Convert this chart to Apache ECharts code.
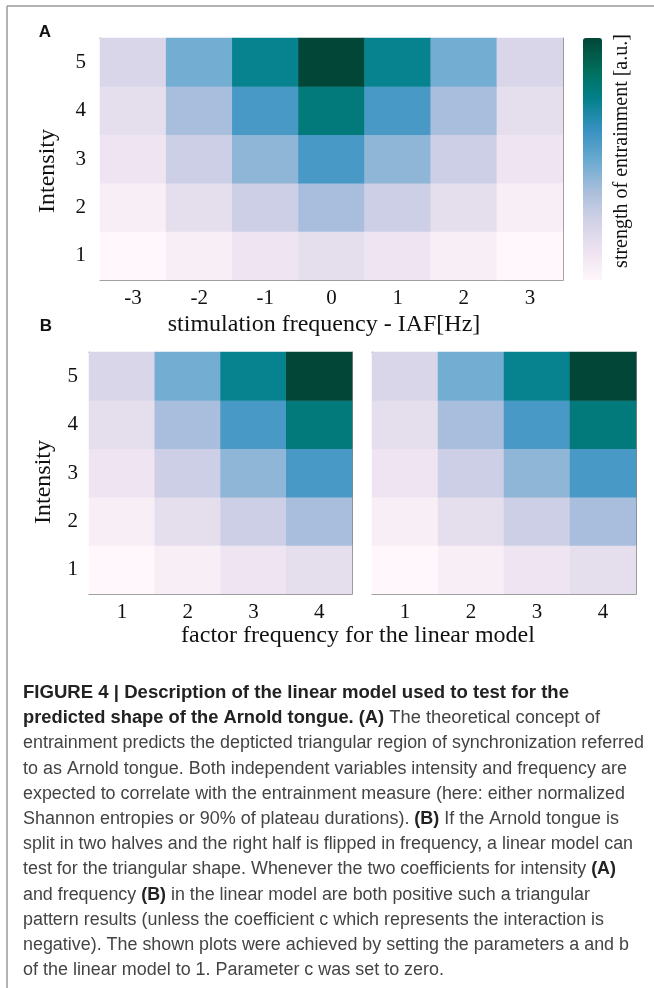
<!DOCTYPE html>
<html>
<head>
<meta charset="utf-8">
<script src="https://cdn.jsdelivr.net/npm/echarts@6/dist/echarts.min.js"></script>
<style>
html,body{margin:0;padding:0;background:#fff;}
#main{width:654px;height:988px;}
</style>
</head>
<body>
<div id="main"></div>
<script>
// ---- data ----
const freqLabels = ['-3', '-2', '-1', '0', '1', '2', '3'];
const intensityLabels = ['1', '2', '3', '4', '5'];
const factorLabels = ['1', '2', '3', '4'];
// rows: intensity 1..5 ; columns: stimulation frequency -3..3
const strengthA = [
  [1, 2, 3, 4, 3, 2, 1],
  [2, 4, 6, 8, 6, 4, 2],
  [3, 6, 9, 12, 9, 6, 3],
  [4, 8, 12, 16, 12, 8, 4],
  [5, 10, 15, 20, 15, 10, 5]
];
// rows: intensity 1..5 ; columns: factor frequency 1..4
const strengthBLeft = [
  [1, 2, 3, 4],
  [2, 4, 6, 8],
  [3, 6, 9, 12],
  [4, 8, 12, 16],
  [5, 10, 15, 20]
];
const strengthBRight = [
  [1, 2, 3, 4],
  [2, 4, 6, 8],
  [3, 6, 9, 12],
  [4, 8, 12, 16],
  [5, 10, 15, 20]
];
const strengthMin = 1;
const strengthMax = 20;

// ---- caption text ----
const captionLines = [
  [['b', 'FIGURE 4 | Description of the linear model used to test for the']],
  [['b', 'predicted shape of the Arnold tongue. (A)'], ['r', ' The theoretical concept of']],
  [['r', 'entrainment predicts the depticted triangular region of synchronization referred']],
  [['r', 'to as Arnold tongue. Both independent variables intensity and frequency are']],
  [['r', 'expected to correlate with the entrainment measure (here: either normalized']],
  [['r', 'Shannon entropies or 90% of plateau durations). '], ['b', '(B)'], ['r', ' If the Arnold tongue is']],
  [['r', 'split in two halves and the right half is flipped in frequency, a linear model can']],
  [['r', 'test for the triangular shape. Whenever the two coefficients for intensity '], ['b', '(A)']],
  [['r', 'and frequency '], ['b', '(B)'], ['r', ' in the linear model are both positive such a triangular']],
  [['r', 'pattern results (unless the coefficient c which represents the interaction is']],
  [['r', 'negative). The shown plots were achieved by setting the parameters a and b']],
  [['r', 'of the linear model to 1. Parameter c was set to zero.']]
];
// layout (right end of each caption line in px)
const captionEnds = [569, 600, 644, 627, 625, 619, 633, 616, 590, 604, 629, 444];

// ---- build ----
function toCells(matrix) {
  const out = [];
  matrix.forEach((row, yi) => row.forEach((v, xi) => out.push([xi, yi, v])));
  return out;
}

const SERIF = '"Liberation Serif", "Times New Roman", serif';
const SANS = '"Liberation Sans", Arial, sans-serif';
const boxColor = '#858585';
const tickFont = 21;

function xAx(gridIndex, data, pos, showLabel) {
  return {
    type: 'category', gridIndex, data, position: pos,
    axisLine: {show: true, lineStyle: {color: boxColor, width: 1}},
    axisTick: {show: true, inside: true, length: 4, alignWithLabel: true, lineStyle: {color: boxColor}},
    axisLabel: {show: showLabel, fontFamily: SERIF, fontSize: tickFont, color: '#111', margin: 8},
    splitLine: {show: false}
  };
}
function yAx(gridIndex, data, pos, showLabel, margin) {
  return {
    type: 'category', gridIndex, data, position: pos,
    axisLine: {show: true, lineStyle: {color: boxColor, width: 1}},
    axisTick: {show: true, inside: true, length: 4, alignWithLabel: true, lineStyle: {color: boxColor}},
    axisLabel: {show: showLabel, fontFamily: SERIF, fontSize: tickFont, color: '#111', margin: margin},
    splitLine: {show: false}
  };
}

const measureCtx = document.createElement('canvas').getContext('2d');
const capFont = 18;
const capX = 23;
const capY0 = 693;
const capStep = 25.2;
const richStyles = {
  b: {fontFamily: SANS, fontSize: capFont, fontWeight: 'bold', fill: '#222'},
  r: {fontFamily: SANS, fontSize: capFont, fontWeight: 'normal', fill: '#444'}
};
function segWidth(kind, txt) {
  measureCtx.font = (kind === 'b' ? 'bold ' : 'normal ') + capFont + 'px ' + SANS;
  return measureCtx.measureText(txt).width;
}
const captionGraphics = captionLines.map((segs, i) => {
  const natural = segs.reduce((s, g) => s + segWidth(g[0], g[1]), 0);
  const sx = (captionEnds[i] - capX) / natural;
  return {
    type: 'text', x: capX, y: capY0 + capStep * i, scaleX: sx, scaleY: 1,
    style: {
      text: segs.map(g => '{' + g[0] + '|' + g[1] + '}').join(''),
      rich: richStyles, align: 'left', verticalAlign: 'middle',
      fontFamily: SANS, fontSize: capFont
    }
  };
});

const option = {
  backgroundColor: '#fff',
  animation: false,
  grid: [
    {left: 100, top: 38, width: 463, height: 242},
    {left: 89, top: 352, width: 263, height: 242},
    {left: 372, top: 352, width: 264, height: 242}
  ],
  xAxis: [
    xAx(0, freqLabels, 'bottom', true),
    xAx(0, freqLabels, 'top', false),
    xAx(1, factorLabels, 'bottom', true),
    xAx(1, factorLabels, 'top', false),
    xAx(2, factorLabels, 'bottom', true),
    xAx(2, factorLabels, 'top', false)
  ],
  yAxis: [
    yAx(0, intensityLabels, 'left', true, 14),
    yAx(0, intensityLabels, 'right', false, 8),
    yAx(1, intensityLabels, 'left', true, 11),
    yAx(1, intensityLabels, 'right', false, 8),
    yAx(2, intensityLabels, 'left', false, 8),
    yAx(2, intensityLabels, 'right', false, 8)
  ],
  visualMap: {
    type: 'continuous', min: strengthMin, max: strengthMax,
    seriesIndex: [0, 1, 2], calculable: false, hoverLink: false,
    orient: 'vertical', left: 583, top: 38, padding: 0,
    itemWidth: 19, itemHeight: 242, text: null, showLabel: false,
    inRange: {color: ['#fff7fb', '#ece2f0', '#d0d1e6', '#a6bddb', '#67a9cf', '#3690c0', '#02818a', '#016c59', '#014636']}
  },
  series: [
    {type: 'heatmap', xAxisIndex: 0, yAxisIndex: 0, data: toCells(strengthA), emphasis: {disabled: true}, progressive: 0},
    {type: 'heatmap', xAxisIndex: 2, yAxisIndex: 2, data: toCells(strengthBLeft), emphasis: {disabled: true}, progressive: 0},
    {type: 'heatmap', xAxisIndex: 4, yAxisIndex: 4, data: toCells(strengthBRight), emphasis: {disabled: true}, progressive: 0}
  ],
  graphic: [
    {type: 'line', shape: {x1: 7, y1: 6, x2: 654, y2: 6}, style: {stroke: '#9a9a9a', lineWidth: 1.5}},
    {type: 'line', shape: {x1: 7, y1: 6, x2: 7, y2: 988}, style: {stroke: '#9a9a9a', lineWidth: 1.5}},
    {type: 'text', x: 45, y: 32, style: {text: 'A', fontFamily: SANS, fontWeight: 'bold', fontSize: 17, fill: '#111', align: 'center', verticalAlign: 'middle'}},
    {type: 'text', x: 46, y: 326, style: {text: 'B', fontFamily: SANS, fontWeight: 'bold', fontSize: 17, fill: '#111', align: 'center', verticalAlign: 'middle'}},
    {type: 'text', x: 48, y: 171, rotation: Math.PI / 2, style: {text: 'Intensity', fontFamily: SERIF, fontSize: 24, fill: '#111', align: 'center', verticalAlign: 'middle'}},
    {type: 'text', x: 44, y: 482, rotation: Math.PI / 2, style: {text: 'Intensity', fontFamily: SERIF, fontSize: 24, fill: '#111', align: 'center', verticalAlign: 'middle'}},
    {type: 'text', x: 622, y: 151, rotation: Math.PI / 2, style: {text: 'strength of entrainment [a.u.]', fontFamily: SERIF, fontSize: 20, fill: '#111', align: 'center', verticalAlign: 'middle'}},
    {type: 'text', x: 324, y: 325, style: {text: 'stimulation frequency - IAF[Hz]', fontFamily: SERIF, fontSize: 24, fill: '#111', align: 'center', verticalAlign: 'middle'}},
    {type: 'text', x: 358, y: 636, style: {text: 'factor frequency for the linear model', fontFamily: SERIF, fontSize: 24, fill: '#111', align: 'center', verticalAlign: 'middle'}}
  ].concat(captionGraphics)
};

const chart = echarts.init(document.getElementById('main'), null, {renderer: 'canvas'});
chart.setOption(option);
</script>
</body>
</html>
